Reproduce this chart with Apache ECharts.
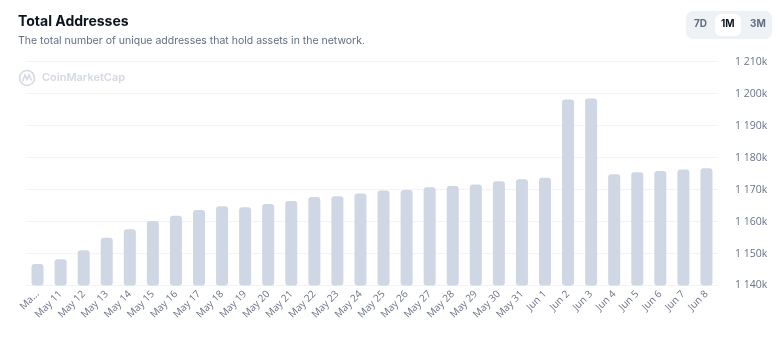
<!DOCTYPE html>
<html>
<head>
<meta charset="utf-8">
<script src="https://cdn.jsdelivr.net/npm/echarts@6/dist/echarts.min.js"></script>
<style>
html,body{margin:0;padding:0;background:#fff;}
#chart{width:780px;height:338px;}
</style>
</head>
<body>
<div id="chart"></div>
<script>
const categories = ["May 10","May 11","May 12","May 13","May 14","May 15","May 16","May 17","May 18","May 19","May 20","May 21","May 22","May 23","May 24","May 25","May 26","May 27","May 28","May 29","May 30","May 31","Jun 1","Jun 2","Jun 3","Jun 4","Jun 5","Jun 6","Jun 7","Jun 8"];
const totalAddresses = [1146700,1148200,1151000,1154900,1157600,1160200,1161800,1163600,1164800,1164500,1165500,1166400,1167700,1167900,1168800,1169700,1169900,1170700,1171100,1171600,1172600,1173200,1173700,1198200,1198500,1174800,1175400,1175800,1176300,1176700];
const yTicks = {min:1140000, max:1210000, interval:10000};
const rangeButtons = ["7D","1M","3M"];

const chart = echarts.init(document.getElementById('chart'), null, {renderer:'canvas'});
const font = 'Inter, "Noto Sans", sans-serif';
const axisFont = '"Open Sans", "Noto Sans", sans-serif';
chart.setOption({
  animation:false,
  backgroundColor:'#ffffff',
  textStyle:{fontFamily:font},
  title:[
    {text:'Total Addresses', left:18, top:14.5, padding:0, textStyle:{fontFamily:font,fontSize:14,fontWeight:'bold',color:'#0d1421'}},
    {text:'The total number of unique addresses that hold assets in the network.', left:18, top:35, padding:0, textStyle:{fontFamily:font,fontSize:10.5,fontWeight:'normal',color:'#616e85'}}
  ],
  graphic:[
    {type:'rect', left:686, top:11, shape:{width:86,height:28,r:7}, style:{fill:'#eff2f5'}},
    {type:'rect', left:715, top:14, shape:{width:26,height:22,r:6}, style:{fill:'#ffffff'}},
    {type:'text', left:694, top:19, style:{text:rangeButtons[0], font:'bold 10px '+font, fill:'#616e85'}},
    {type:'text', left:721, top:19, style:{text:rangeButtons[1], font:'bold 10px '+font, fill:'#0d1421'}},
    {type:'text', left:750, top:19, style:{text:rangeButtons[2], font:'bold 10px '+font, fill:'#616e85'}},
    {type:'circle', shape:{cx:27,cy:78,r:7.5}, style:{fill:'none',stroke:'#d4d9e2',lineWidth:1.6}},
    {type:'polyline', shape:{points:[[22.5,81.5],[25,75],[27,79.5],[29,75],[31.5,80.5]]}, style:{fill:'none',stroke:'#d4d9e2',lineWidth:1.6}},
    {type:'text', left:42, top:72, style:{text:'CoinMarketCap', font:'600 11px '+font, fill:'#d4d9e2'}}
  ],
  grid:{left:26, right:62, top:61.7, bottom:52.5, containLabel:false},
  xAxis:{
    type:'category',
    data:categories,
    axisLine:{show:false},
    axisTick:{show:false},
    axisLabel:{
      rotate:45, margin:7, fontSize:10, color:'#6b7385', interval:0, fontFamily:axisFont,
      formatter:(v,i)=> i===0 ? 'Ma...' : v
    }
  },
  yAxis:{
    type:'value',
    position:'right',
    min:yTicks.min, max:yTicks.max, interval:yTicks.interval,
    axisLine:{show:false}, axisTick:{show:false},
    splitLine:{lineStyle:{color:'#f1f3f6',width:1}},
    axisLabel:{
      margin:17, fontSize:10.5, color:'#6b7385', fontFamily:axisFont,
      formatter:v=>{
        const k = Math.round(v/1000);
        return String(k).replace(/\B(?=(\d{3})+(?!\d))/g,' ')+'k';
      }
    }
  },
  series:[{
    type:'bar',
    data:totalAddresses,
    barWidth:12,
    itemStyle:{color:'#cfd6e4', borderRadius:3}
  }]
});
</script>
</body>
</html>
